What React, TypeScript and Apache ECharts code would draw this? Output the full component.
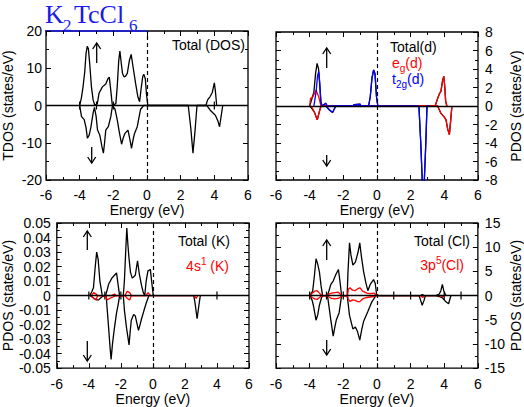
import React, { useEffect, useRef } from 'react';
import * as echarts from 'echarts';

// ---------- data (Energy eV, DOS) ----------
const tdosUp: number[][] = [
  [-4.0, 0], [-3.9, 2], [-3.8, 5], [-3.7, 9], [-3.62, 14], [-3.55, 15.9], [-3.48, 15.2], [-3.4, 11], [-3.3, 5], [-3.2, 1.5], [-3.1, 0],
  [-2.95, 0.5], [-2.85, 3.3], [-2.65, 5], [-2.45, 5.8], [-2.32, 7.2], [-2.24, 7.6], [-2.15, 4], [-2.06, 0],
  [-1.85, 0.5], [-1.77, 5], [-1.68, 12], [-1.61, 14.6], [-1.52, 11], [-1.45, 8.5], [-1.37, 7.7], [-1.27, 7.9], [-1.17, 8.6],
  [-1.05, 12], [-0.94, 13.7], [-0.85, 11], [-0.68, 6], [-0.55, 2.5], [-0.44, 1], [-0.35, 4.5], [-0.25, 7.8], [-0.19, 8.4],
  [-0.1, 7.2], [-0.03, 3], [0.05, 0],
  [3.5, 0], [3.6, 1.5], [3.75, 2.4], [3.88, 3.5], [4.0, 6.1], [4.06, 4], [4.14, 0]
];
const tdosDn: number[][] = [
  [-4.0, 0], [-3.89, -3], [-3.73, -3.8], [-3.62, -6], [-3.54, -8.8], [-3.44, -8], [-3.34, -6], [-3.2, -2], [-3.12, -0.5],
  [-3.02, -3], [-2.94, -6.6], [-2.8, -8], [-2.68, -11], [-2.59, -12.8], [-2.52, -10], [-2.45, -6.6], [-2.3, -5.7], [-2.15, -3], [-2.05, 0],
  [-1.9, -1], [-1.77, -3.8], [-1.65, -7], [-1.51, -10.4], [-1.4, -8.5], [-1.31, -7.5], [-1.13, -6.6], [-1.0, -9.5], [-0.92, -11.5],
  [-0.82, -9], [-0.74, -7.5], [-0.58, -5.7], [-0.38, -1], [-0.2, 0],
  [2.45, 0], [2.6, -6], [2.73, -12.8], [2.85, -7], [2.97, 0],
  [3.55, 0], [3.8, -1.5], [4.06, -2.6], [4.2, -4], [4.31, -5.7], [4.4, -3], [4.5, 0]
];

const dTotUp: number[][] = [
  [-4.0, 0], [-3.9, 0.6], [-3.75, 1.5], [-3.65, 3.5], [-3.56, 4.6], [-3.47, 4.0], [-3.4, 2.2], [-3.33, 0.4], [-3.25, 0],
  [-3.05, 0.3], [-2.95, 0], [-1.45, 0], [-1.35, 0.15], [-1.0, 0.2], [-0.95, 0],
  [-0.5, 0], [-0.4, 1], [-0.3, 3], [-0.2, 3.9], [-0.12, 3.5], [-0.03, 1], [0.05, 0],
  [3.45, 0], [3.6, 0.8], [3.7, 1.3], [3.8, 1.6], [3.9, 2.8], [3.97, 3.2], [4.03, 2], [4.08, 0.5], [4.15, 0]
];
const dTotDn: number[][] = [
  [-4.0, 0], [-3.9, -0.2], [-3.71, -0.7], [-3.55, -1.5], [-3.45, -0.8], [-3.33, 0],
  [-3.03, 0], [-2.84, -0.4], [-2.64, -0.7], [-2.45, 0],
  [2.49, 0], [2.6, -4], [2.7, -8.6], [2.8, -8.6], [2.9, -4], [2.97, 0],
  [3.6, 0], [3.8, -0.8], [4.0, -1.2], [4.1, -1.5], [4.2, -2.5], [4.3, -3.1], [4.38, -1.5], [4.45, 0]
];
const egUp: number[][] = [
  [-4.0, 0], [-3.95, 0.8], [-3.81, 1.0], [-3.62, 1.7], [-3.46, 1.0], [-3.33, 0], [-2.3, 0],
  [3.45, 0], [3.6, 0.8], [3.7, 1.3], [3.8, 1.6], [3.9, 2.8], [3.97, 3.2], [4.03, 2], [4.08, 0.5], [4.15, 0]
];
const egDn: number[][] = [
  [-3.95, 0], [-3.85, -0.2], [-3.71, -0.7], [-3.55, -1.5], [-3.45, -0.8], [-3.33, 0], [-2.3, 0],
  [3.6, 0], [3.8, -0.8], [4.0, -1.2], [4.1, -1.5], [4.2, -2.5], [4.3, -3.1], [4.38, -1.5], [4.45, 0]
];
const t2gUp: number[][] = [
  [-3.75, 0], [-3.62, 1.5], [-3.53, 3.3], [-3.46, 3.7], [-3.4, 2.5], [-3.33, 0.3], [-3.25, 0],
  [-3.05, 0.3], [-2.95, 0], [-1.45, 0], [-1.35, 0.15], [-1.0, 0.2], [-0.95, 0],
  [-0.5, 0], [-0.4, 1], [-0.3, 3], [-0.2, 3.9], [-0.12, 3.5], [-0.03, 1], [0.05, 0]
];
const t2gDn: number[][] = [
  [-3.03, 0], [-2.84, -0.4], [-2.64, -0.7], [-2.45, 0],
  [2.49, 0], [2.6, -4], [2.7, -8.6], [2.8, -8.6], [2.9, -4], [2.97, 0], [3.15, 0]
];

const kUp: number[][] = [
  [-3.94, 0], [-3.8, 0.003], [-3.71, 0.0056], [-3.6, 0.02], [-3.51, 0.03], [-3.42, 0.025], [-3.31, 0.01], [-3.16, 0],
  [-2.96, 0], [-2.85, 0.004], [-2.76, 0.008], [-2.56, 0.012], [-2.4, 0.014], [-2.27, 0.0156], [-2.18, 0.008], [-2.08, 0],
  [-1.85, 0], [-1.78, 0.01], [-1.7, 0.03], [-1.63, 0.0465], [-1.56, 0.035], [-1.49, 0.0255], [-1.4, 0.016], [-1.29, 0.012],
  [-1.1, 0.014], [-0.96, 0.024], [-0.85, 0.015], [-0.71, 0.007], [-0.6, 0.002], [-0.51, 0], [-0.42, 0.01], [-0.31, 0.017],
  [-0.16, 0.018], [-0.08, 0.01], [0.02, 0]
];
const kDn: number[][] = [
  [-3.94, 0], [-3.8, -0.001], [-3.66, -0.002], [-3.5, -0.003], [-3.39, -0.003], [-3.2, -0.001], [-3.0, 0],
  [-2.92, 0], [-2.85, -0.01], [-2.76, -0.023], [-2.68, -0.035], [-2.61, -0.044], [-2.52, -0.033], [-2.41, -0.023],
  [-2.27, -0.012], [-2.15, -0.005], [-2.08, 0], [-1.85, 0], [-1.78, -0.01], [-1.65, -0.022], [-1.49, -0.034],
  [-1.42, -0.025], [-1.35, -0.017], [-1.2, -0.013], [-1.1, -0.014], [-0.98, -0.02], [-0.9, -0.024], [-0.8, -0.02],
  [-0.71, -0.016], [-0.55, -0.01], [-0.41, -0.005], [-0.25, 0],
  [2.55, 0], [2.63, -0.005], [2.76, -0.016], [2.88, -0.006], [2.96, 0]
];
const k4sUp: number[][] = [
  [-3.85, 0], [-3.7, 0.002], [-3.55, 0.001], [-3.45, 0], [-2.6, 0], [-2.4, 0.001], [-2.3, 0],
  [-1.75, 0], [-1.6, 0.003], [-1.45, 0.002], [-1.35, 0], [-0.45, 0], [-0.3, 0.002], [-0.15, 0]
];
const k4sDn: number[][] = [
  [-3.85, 0], [-3.7, -0.002], [-3.55, -0.003], [-3.45, 0], [-3.0, 0], [-2.85, -0.003], [-2.7, -0.002],
  [-2.5, -0.001], [-2.3, 0], [-1.75, 0], [-1.6, -0.002], [-1.45, -0.003], [-1.35, 0],
  [2.6, 0], [2.7, -0.002], [2.8, 0]
];

const clUp: number[][] = [
  [-3.97, 0], [-3.9, 0.5], [-3.82, 0.9], [-3.72, 4], [-3.62, 7.6], [-3.52, 6.5], [-3.42, 4.9], [-3.32, 2], [-3.23, 0],
  [-2.94, 0], [-2.85, 1], [-2.74, 2.3], [-2.6, 3], [-2.45, 4.3], [-2.29, 5.4], [-2.2, 3], [-2.1, 0],
  [-1.77, 0], [-1.72, 5], [-1.63, 10.9], [-1.55, 8.5], [-1.43, 6.3], [-1.28, 6.9], [-1.12, 9], [-1.02, 10.9],
  [-0.92, 8], [-0.79, 4.9], [-0.65, 2.5], [-0.54, 1], [-0.4, 2.3], [-0.2, 3.3], [-0.1, 2.5], [-0.01, 0],
  [2.6, 0], [2.7, 0.2], [2.8, 0], [3.5, 0], [3.7, 0.3], [3.8, 1], [3.89, 2.3], [3.97, 1], [4.1, 0]
];
const clDn: number[][] = [
  [-3.97, 0], [-3.85, -1], [-3.78, -2], [-3.62, -5.1], [-3.52, -4], [-3.42, -2], [-3.3, -0.5], [-3.23, 0],
  [-2.94, 0], [-2.84, -2.5], [-2.74, -5.1], [-2.6, -8.4], [-2.5, -6.5], [-2.41, -5], [-2.25, -3.6], [-2.1, 0],
  [-1.77, 0], [-1.7, -2], [-1.63, -4.1], [-1.43, -6.9], [-1.28, -6.5], [-1.15, -7.5], [-1.02, -9.2], [-0.9, -7],
  [-0.79, -5.3], [-0.54, -3.3], [-0.3, -1.3], [-0.06, 0],
  [2.5, 0], [2.6, -1], [2.69, -2], [2.8, -1], [2.88, 0], [3.5, 0], [3.7, -0.2], [3.9, -0.5], [4.1, -1.3],
  [4.26, -1.7], [4.4, 0]
];
const cl3pUp: number[][] = [
  [-3.95, 0], [-3.85, 0.5], [-3.7, 0.9], [-3.55, 1], [-3.45, 0.6], [-3.3, 0.1], [-3.2, 0],
  [-2.95, 0], [-2.85, 0.3], [-2.7, 0.5], [-2.5, 0.6], [-2.3, 0.7], [-2.15, 0.2], [-2.1, 0],
  [-1.75, 0], [-1.7, 1.3], [-1.6, 1.6], [-1.45, 1.1], [-1.3, 1.0], [-1.1, 1.5], [-1.0, 1.6], [-0.85, 0.9],
  [-0.6, 0.5], [-0.4, 0.4], [-0.2, 0.5], [-0.05, 0.2], [0, 0]
];
const cl3pDn: number[][] = [
  [-3.95, 0], [-3.85, -0.4], [-3.7, -0.7], [-3.55, -0.8], [-3.45, -0.5], [-3.3, -0.1], [-3.2, 0],
  [-2.95, 0], [-2.85, -0.3], [-2.7, -0.6], [-2.5, -0.7], [-2.3, -0.6], [-2.15, -0.3], [-2.1, 0],
  [-1.75, 0], [-1.7, -0.8], [-1.6, -1.2], [-1.45, -0.9], [-1.3, -1.0], [-1.1, -1.3], [-1.0, -1.2], [-0.85, -0.7],
  [-0.6, -0.4], [-0.4, -0.3], [-0.2, -0.2], [0, 0],
  [2.6, 0], [2.72, -0.4], [2.85, 0], [3.8, 0], [3.9, -0.3], [4.0, 0]
];

// tick marks seen on the zero line (eV)
const zeroTicksTL = [-4, -3, -2, 4];
const zeroTicksTR: number[] = [];
const zeroTicksBL = [-4, -3, -2, 4];
const zeroTicksBR = [-4, -3, -2, 1, 2, 4, 5];

const FONT = 'Liberation Sans';
const BLACK = '#000000';
const RED = '#ff0000';
const BLUE = '#0000ff';

const panels = [
  { grid: { left: 45, top: 31, width: 203, height: 149 }, yMin: -20, yMax: 20, yInt: 10, side: 'left', name: 'TDOS (states/eV)', lm: 4, xm: 8, xGap: 17, ticks: zeroTicksTL },
  { grid: { left: 276, top: 32, width: 205, height: 148 }, yMin: -8, yMax: 8, yInt: 2, side: 'right', name: 'PDOS (states/eV)', lm: 7, xm: 8, xGap: 17, ticks: zeroTicksTR },
  { grid: { left: 45, top: 223, width: 204, height: 151 }, yMin: -0.05, yMax: 0.05, yInt: 0.01, side: 'left', name: 'PDOS (states/eV)', lm: 6, xm: 9, xGap: 16, ticks: zeroTicksBL },
  { grid: { left: 276, top: 223, width: 205, height: 150 }, yMin: -15, yMax: 15, yInt: 5, side: 'right', name: 'PDOS (states/eV)', lm: 7, xm: 9, xGap: 16, ticks: zeroTicksBR },
];

const curves: { g: number; data: number[][]; color: string }[] = [
  { g: 0, data: tdosUp, color: BLACK },
  { g: 0, data: tdosDn, color: BLACK },
  { g: 1, data: dTotUp, color: BLACK },
  { g: 1, data: dTotDn, color: BLACK },
  { g: 1, data: egUp, color: RED },
  { g: 1, data: egDn, color: RED },
  { g: 1, data: t2gUp, color: BLUE },
  { g: 1, data: t2gDn, color: BLUE },
  { g: 2, data: kUp, color: BLACK },
  { g: 2, data: kDn, color: BLACK },
  { g: 2, data: k4sUp, color: RED },
  { g: 2, data: k4sDn, color: RED },
  { g: 3, data: clUp, color: BLACK },
  { g: 3, data: clDn, color: BLACK },
  { g: 3, data: cl3pUp, color: RED },
  { g: 3, data: cl3pDn, color: RED },
];

function arrow(x: number, tip: number, tail: number) {
  const d = tail > tip ? 1 : -1;
  return {
    type: 'group',
    children: [
      { type: 'line', shape: { x1: x, y1: tip, x2: x, y2: tail }, style: { stroke: BLACK, lineWidth: 1.3 } },
      { type: 'polyline', shape: { points: [[x - 4, tip + 6 * d], [x, tip], [x + 4, tip + 6 * d]] }, style: { stroke: BLACK, lineWidth: 1.3, fill: null } },
    ],
  };
}

function label(text: string, x: number, y: number, color: string, align: string, rich?: any) {
  return {
    type: 'text',
    x, y,
    style: { text, fill: color, fontFamily: FONT, fontSize: 14, align, verticalAlign: 'middle', rich },
  };
}

function richSet(color: string) {
  return {
    m: { fill: color, color, fontFamily: FONT, fontSize: 14, lineHeight: 20, verticalAlign: 'middle' },
    sub: { fill: color, color, fontFamily: FONT, fontSize: 10, lineHeight: 10, verticalAlign: 'bottom' },
    sup: { fill: color, color, fontFamily: FONT, fontSize: 10, lineHeight: 10, verticalAlign: 'top' },
  };
}

export default function App() {
  const ref = useRef<HTMLDivElement>(null);
  useEffect(() => {
    document.body.style.margin = '0';
    const chart = echarts.init(ref.current!, null, { renderer: 'svg' });

    const tickCommon = { show: true, inside: true, length: 5, lineStyle: { color: BLACK, width: 1 } };
    const minorCommon = { show: true, splitNumber: 2, length: 3, lineStyle: { color: BLACK, width: 1 } };
    const xAxis: any[] = [];
    const yAxis: any[] = [];
    panels.forEach((p, g) => {
      xAxis.push({
        type: 'value', gridIndex: g, position: 'bottom', min: -6, max: 6, interval: 2,
        axisLine: { show: false, onZero: false }, axisTick: tickCommon, minorTick: minorCommon,
        splitLine: { show: false }, minorSplitLine: { show: false },
        axisLabel: { color: BLACK, fontSize: 14, fontFamily: FONT, margin: p.xm },
        name: 'Energy (eV)', nameLocation: 'middle', nameGap: p.xGap,
        nameTextStyle: { color: BLACK, fontSize: 14, fontFamily: FONT },
      });
      xAxis.push({
        type: 'value', gridIndex: g, position: 'top', min: -6, max: 6, interval: 2,
        axisLine: { show: false, onZero: false }, axisTick: tickCommon, minorTick: minorCommon,
        splitLine: { show: false }, minorSplitLine: { show: false }, axisLabel: { show: false },
      });
      yAxis.push({
        type: 'value', gridIndex: g, position: p.side, min: p.yMin, max: p.yMax, interval: p.yInt,
        axisLine: { show: false, onZero: false }, axisTick: tickCommon, minorTick: minorCommon,
        splitLine: { show: false }, minorSplitLine: { show: false },
        axisLabel: { color: BLACK, fontSize: 14, fontFamily: FONT, margin: p.lm },
        name: p.name, nameLocation: 'middle', nameGap: 31,
        nameTextStyle: { color: BLACK, fontSize: 14, fontFamily: FONT },
      });
      yAxis.push({
        type: 'value', gridIndex: g, position: p.side === 'left' ? 'right' : 'left', min: p.yMin, max: p.yMax, interval: p.yInt,
        axisLine: { show: false, onZero: false }, axisTick: tickCommon, minorTick: minorCommon,
        splitLine: { show: false }, minorSplitLine: { show: false }, axisLabel: { show: false },
      });
    });

    const series: any[] = [];
    panels.forEach((p, g) => {
      series.push({
        type: 'line', xAxisIndex: 2 * g, yAxisIndex: 2 * g, data: [], silent: true,
        markLine: {
          silent: true, symbol: 'none', animation: false, label: { show: false },
          data: [
            { yAxis: 0, lineStyle: { type: 'solid', width: 1.4, color: BLACK } },
            { xAxis: 0, lineStyle: { type: [4, 3], width: 1.2, color: BLACK } },
          ],
        },
      });
      series.push({
        type: 'custom', xAxisIndex: 2 * g, yAxisIndex: 2 * g, silent: true,
        data: p.ticks.map((e) => [e, 0]),
        renderItem: (_params: any, api: any) => {
          const pt = api.coord([api.value(0), api.value(1)]);
          return { type: 'line', shape: { x1: pt[0], y1: pt[1] - 4, x2: pt[0], y2: pt[1] + 4 }, style: { stroke: BLACK, lineWidth: 1.2 } };
        },
      });
    });
    curves.forEach((c) => {
      series.push({
        type: 'line', xAxisIndex: 2 * c.g, yAxisIndex: 2 * c.g, data: c.data, silent: true,
        showSymbol: false, symbol: 'none', lineStyle: { color: c.color, width: 1.3 }, itemStyle: { color: c.color },
      });
    });

    const titleColor = '#1a1aee';
    const graphic: any[] = [
      { type: 'text', x: 45, y: 14, style: { text: 'K', fill: titleColor, fontFamily: 'Liberation Serif', fontSize: 26, verticalAlign: 'middle' } },
      { type: 'text', x: 63, y: 25, style: { text: '2', fill: titleColor, fontFamily: 'Liberation Serif', fontSize: 17, verticalAlign: 'middle' } },
      { type: 'text', x: 74, y: 14, style: { text: 'TcCl', fill: titleColor, fontFamily: 'Liberation Serif', fontSize: 26, verticalAlign: 'middle' } },
      { type: 'text', x: 129, y: 25, style: { text: '6', fill: titleColor, fontFamily: 'Liberation Serif', fontSize: 17, verticalAlign: 'middle' } },
      { type: 'line', shape: { x1: 45, y1: 31, x2: 147, y2: 31 }, style: { stroke: titleColor, lineWidth: 1.3 } },
      label('Total (DOS)', 245, 45, BLACK, 'right'),
      label('Total(d)', 390, 47, BLACK, 'left'),
      label('{m|e}{sub|g}{m|(d)}', 392, 63, RED, 'left', richSet(RED)),
      label('{m|t}{sub|2g}{m|(d)}', 392, 79, BLUE, 'left', richSet(BLUE)),
      label('Total (K)', 230, 241, BLACK, 'right'),
      label('{m|4s}{sup|1}{m| (K)}', 229, 266, RED, 'right', richSet(RED)),
      label('Total (Cl)', 470, 241, BLACK, 'right'),
      label('{m|3p}{sup|5}{m|(Cl)}', 464, 265, RED, 'right', richSet(RED)),
      arrow(96.7, 43, 63),
      arrow(91.7, 163, 147),
      arrow(326.7, 48, 68),
      arrow(326.7, 166, 155),
      arrow(87.3, 231, 250),
      arrow(87.3, 361, 341),
      arrow(326.7, 240, 260),
      arrow(326.7, 355, 340),
    ];

    chart.setOption({
      animation: false,
      backgroundColor: '#ffffff',
      textStyle: { fontFamily: FONT },
      grid: panels.map((p) => ({ ...p.grid, show: true, borderColor: BLACK, borderWidth: 1.3, backgroundColor: 'transparent', containLabel: false })),
      xAxis,
      yAxis,
      series,
      graphic,
    });
    return () => chart.dispose();
  }, []);
  return <div ref={ref} style={{ width: 524, height: 407 }} />;
}
